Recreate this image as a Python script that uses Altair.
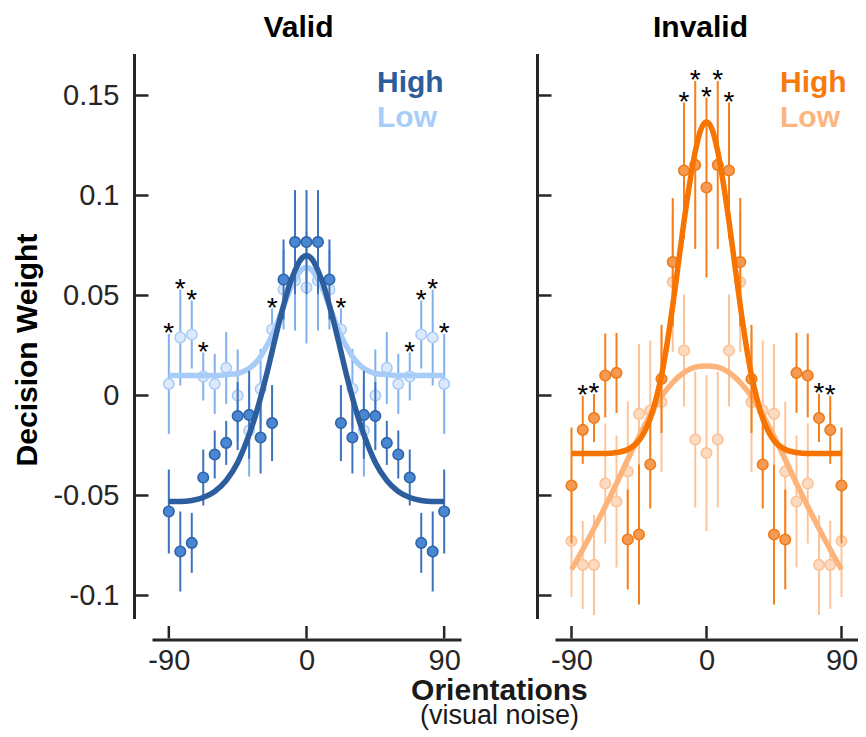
import altair as alt
import pandas as pd

# ---------------- data ----------------
ORIENT = [-90, -82.5, -75, -67.5, -60, -52.5, -45, -37.5, -30, -22.5, -15, -7.5, 0,
          7.5, 15, 22.5, 30, 37.5, 45, 52.5, 60, 67.5, 75, 82.5, 90]

VALID_HIGH = [-0.058, -0.078, -0.0737, -0.041, -0.0295, -0.0237, -0.0103, -0.0097, -0.021,
              -0.0138, 0.058, 0.0767, 0.0767, 0.0767, 0.058, -0.0138, -0.021, -0.0097,
              -0.0103, -0.0237, -0.0295, -0.041, -0.0737, -0.078, -0.058]
VALID_HIGH_ERR = [0.021, 0.020, 0.015, 0.014, 0.012, 0.011, 0.017, 0.022, 0.018, 0.019,
                  0.020, 0.026, 0.026, 0.026, 0.020, 0.019, 0.018, 0.022, 0.017, 0.011,
                  0.012, 0.014, 0.015, 0.020, 0.021]
VALID_LOW = [0.0058, 0.029, 0.0305, 0.0095, 0.0058, 0.0138, 0.0, -0.0175, 0.0033, 0.033,
             0.053, 0.0575, 0.054, 0.0575, 0.053, 0.033, 0.0033, -0.0175, 0.0, 0.0138,
             0.0058, 0.0095, 0.0305, 0.029, 0.0058]
VALID_LOW_ERR = [0.025, 0.024, 0.017, 0.012, 0.015, 0.018, 0.023, 0.023, 0.020, 0.0105,
                 0.020, 0.025, 0.028, 0.025, 0.020, 0.0105, 0.020, 0.023, 0.023, 0.018,
                 0.015, 0.012, 0.017, 0.024, 0.025]
VALID_STARS = [-90, -82.5, -75, -67.5, -22.5, 22.5, 67.5, 75, 82.5, 90]   # on "Low"

INVALID_HIGH = [-0.045, -0.0172, -0.0113, 0.010, 0.0113, -0.072, -0.0695, -0.0345, 0.0083,
                0.0667, 0.1125, 0.1153, 0.104, 0.1153, 0.1125, 0.0667, 0.0083, -0.0345,
                -0.0695, -0.072, 0.0113, 0.010, -0.0113, -0.0172, -0.045]
INVALID_HIGH_ERR = [0.029, 0.017, 0.012, 0.021, 0.020, 0.025, 0.035, 0.022, 0.027, 0.032,
                    0.034, 0.042, 0.045, 0.042, 0.034, 0.032, 0.027, 0.022, 0.035, 0.025,
                    0.020, 0.021, 0.012, 0.017, 0.029]
INVALID_LOW = [-0.0728, -0.0847, -0.0847, -0.044, -0.053, -0.038, -0.0092, -0.0075, -0.0033,
               0.0567, 0.0225, -0.022, -0.0288, -0.022, 0.0225, 0.0567, -0.0033, -0.0075,
               -0.0092, -0.038, -0.053, -0.044, -0.0847, -0.0847, -0.0728]
INVALID_LOW_ERR = [0.028, 0.022, 0.025, 0.030, 0.033, 0.035, 0.035, 0.035, 0.035, 0.035,
                   0.028, 0.034, 0.039, 0.034, 0.028, 0.035, 0.035, 0.035, 0.035, 0.035,
                   0.033, 0.030, 0.025, 0.022, 0.028]
INVALID_STARS = [-82.5, -75, -15, -7.5, 0, 7.5, 15, 75, 82.5]              # on "High"

FIT_X = [-90, -82.5, -75, -67.5, -60, -52.5, -45, -41.25, -37.5, -33.75, -30, -26.25,
         -22.5, -18.75, -15, -11.25, -7.5, -3.75, 0, 3.75, 7.5, 11.25, 15, 18.75, 22.5,
         26.25, 30, 33.75, 37.5, 41.25, 45, 52.5, 60, 67.5, 75, 82.5, 90]
VALID_HIGH_FIT = [-0.053, -0.053, -0.0525, -0.051, -0.048, -0.0425, -0.0335, -0.027,
                  -0.0195, -0.011, -0.001, 0.010, 0.022, 0.034, 0.045, 0.055, 0.0625,
                  0.068, 0.070, 0.068, 0.0625, 0.055, 0.045, 0.034, 0.022, 0.010, -0.001,
                  -0.011, -0.0195, -0.027, -0.0335, -0.0425, -0.048, -0.051, -0.0525,
                  -0.053, -0.053]
VALID_LOW_FIT = [0.010, 0.010, 0.010, 0.010, 0.010, 0.0105, 0.011, 0.012, 0.0135, 0.016,
                 0.0195, 0.0245, 0.030, 0.037, 0.0445, 0.052, 0.058, 0.0625, 0.064,
                 0.0625, 0.058, 0.052, 0.0445, 0.037, 0.030, 0.0245, 0.0195, 0.016,
                 0.0135, 0.012, 0.011, 0.0105, 0.010, 0.010, 0.010, 0.010, 0.010]
INVALID_HIGH_FIT = [-0.029, -0.029, -0.029, -0.029, -0.0285, -0.027, -0.0225, -0.018,
                    -0.0115, -0.002, 0.010, 0.026, 0.045, 0.066, 0.087, 0.106, 0.122,
                    0.133, 0.1367, 0.133, 0.122, 0.106, 0.087, 0.066, 0.045, 0.026, 0.010,
                    -0.002, -0.0115, -0.018, -0.0225, -0.027, -0.0285, -0.029, -0.029,
                    -0.029, -0.029]
INVALID_LOW_FIT = [-0.087, -0.077, -0.0665, -0.0555, -0.044, -0.032, -0.0205, -0.015,
                   -0.0095, -0.0048, -0.0005, 0.0032, 0.0065, 0.0093, 0.0115, 0.0131,
                   0.0142, 0.0146, 0.0148, 0.0146, 0.0142, 0.0131, 0.0115, 0.0093, 0.0065,
                   0.0032, -0.0005, -0.0048, -0.0095, -0.015, -0.0205, -0.032, -0.044,
                   -0.0555, -0.0665, -0.077, -0.087]

Y_TICKS = [-0.1, -0.05, 0, 0.05, 0.1, 0.15]
X_TICKS = [-90, 0, 90]
LEGEND_LABELS = ["High", "Low"]
PANEL_TITLES = ["Valid", "Invalid"]

# ---------------- styling ----------------
FONT = "Liberation Sans"
AX = "#262626"
H = 565
XDOM = [-101, 101]
YDOM = [-0.1115, 0.171]

VALID_COL = dict(high_line="#2c5d9d", high_fill="#4a87d3", high_stroke="#2f63a8",
                 high_bar="#3d72bd", low_line="#a7ccf7", low_fill="#dce9fc",
                 low_stroke="#a9ccf6", low_bar="#80b0ee",
                 leg_high="#2d5c9b", leg_low="#a9cdf9")
INVALID_COL = dict(high_line="#f77400", high_fill="#f59a52", high_stroke="#f07a16",
                   high_bar="#f77e18", low_line="#fdb47b", low_fill="#fddbc0",
                   low_stroke="#fdc194", low_bar="#fdc49a",
                   leg_high="#f77a0c", leg_low="#fdb57e")


def panel(title, high, high_err, low, low_err, high_fit, low_fit, stars, star_series,
          col, first, width, title_dx):
    xs = alt.Scale(domain=XDOM, nice=False, zero=False)
    ys = alt.Scale(domain=YDOM, nice=False, zero=False)
    xaxis = alt.Axis(values=X_TICKS, ticks=False, tickSize=0, domainWidth=3,
                     domainColor=AX, labelFontSize=29, labelColor=AX, labelPadding=7,
                     labelFlush=False, offset=21, title=None, grid=False,
                     labelExpr="'' + datum.value", labelFont=FONT)
    if first:
        yaxis = alt.Axis(values=Y_TICKS, ticks=False, tickSize=0, domainWidth=3,
                         domainColor=AX, labelFontSize=29, labelColor=AX,
                         labelPadding=15, offset=18, grid=False,
                         labelExpr="'' + datum.value", labelFont=FONT,
                         title="Decision Weight", titleFontSize=30,
                         titleFontWeight="bold", titleColor="black", titlePadding=10,
                         titleFont=FONT, titleY=296)
    else:
        yaxis = alt.Axis(values=Y_TICKS, ticks=False, tickSize=0, domainWidth=3,
                         domainColor=AX, labels=False, offset=18, grid=False, title=None)

    X = alt.X("o:Q", scale=xs, axis=xaxis)
    pts = pd.DataFrame({
        "o": ORIENT * 2,
        "v": high + low,
        "err": high_err + low_err,
        "series": ["High"] * len(ORIENT) + ["Low"] * len(ORIENT),
    })
    pts["lo"] = pts["v"] - pts["err"]
    pts["hi"] = pts["v"] + pts["err"]
    fits = pd.DataFrame({
        "o": FIT_X * 2,
        "v": high_fit + low_fit,
        "series": ["High"] * len(FIT_X) + ["Low"] * len(FIT_X),
    })
    star_df = pts[(pts["series"] == star_series) & (pts["o"].isin(stars))]

    ytick_df = pd.DataFrame({"v": Y_TICKS})
    xtick_df = pd.DataFrame({"o": X_TICKS})

    yticks = alt.Chart(ytick_df).mark_rule(color=AX, strokeWidth=2.5).encode(
        y=alt.Y("v:Q", scale=ys, axis=yaxis), x=alt.value(-16.5), x2=alt.value(-3.5))
    xticks = alt.Chart(xtick_df).mark_rule(color=AX, strokeWidth=2.5).encode(
        x=X, y=alt.value(H + 20), y2=alt.value(H + 7.5))

    layers = [yticks, xticks]
    for s in ["Low", "High"]:
        key = s.lower()
        sub = pts[pts["series"] == s]
        fsub = fits[fits["series"] == s]
        layers.append(alt.Chart(sub).mark_rule(color=col[key + "_bar"], strokeWidth=2).encode(
            x=X, y=alt.Y("lo:Q", scale=ys, axis=yaxis), y2="hi:Q"))
        layers.append(alt.Chart(sub).mark_circle(
            size=110, color=col[key + "_fill"], opacity=1,
            stroke=col[key + "_stroke"], strokeWidth=1.6).encode(
            x=X, y=alt.Y("v:Q", scale=ys, axis=yaxis)))
        layers.append(alt.Chart(fsub).mark_line(
            color=col[key + "_line"], strokeWidth=5.5, interpolate="monotone").encode(
            x=X, y=alt.Y("v:Q", scale=ys, axis=yaxis)))

    layers.append(alt.Chart(star_df).mark_text(
        text="*", fontSize=28, font=FONT, color="black", baseline="alphabetic",
        align="center", dy=8).encode(x=X, y=alt.Y("hi:Q", scale=ys, axis=yaxis)))

    for i, lab in enumerate(LEGEND_LABELS):
        layers.append(alt.Chart(pd.DataFrame({"label": [lab]})).mark_text(
            fontSize=30, fontWeight="bold", font=FONT, align="left",
            baseline="alphabetic",
            color=col["leg_high"] if lab == "High" else col["leg_low"]).encode(
            x=alt.value(225), y=alt.value(38.5 + 35 * i), text="label:N"))

    return alt.layer(*layers).properties(
        width=width, height=H,
        title=alt.TitleParams(title, fontSize=30, fontWeight="bold", font=FONT,
                              color="black", anchor="middle", dx=title_dx, offset=10.5))


left = panel(PANEL_TITLES[0], VALID_HIGH, VALID_HIGH_ERR, VALID_LOW, VALID_LOW_ERR,
             VALID_HIGH_FIT, VALID_LOW_FIT, VALID_STARS, "Low", VALID_COL, True, 309, -8)
right = panel(PANEL_TITLES[1], INVALID_HIGH, INVALID_HIGH_ERR, INVALID_LOW,
              INVALID_LOW_ERR, INVALID_HIGH_FIT, INVALID_LOW_FIT, INVALID_STARS, "High",
              INVALID_COL, False, 303, -6)

chart = alt.hconcat(left, right, spacing=94, bounds="flush").properties(
    title=alt.TitleParams("Orientations", subtitle="(visual noise)", orient="bottom",
                          anchor="middle", fontSize=30, fontWeight="bold", font=FONT,
                          color="#1a1a1a", subtitleFontSize=27, subtitleFont=FONT,
                          subtitleFontWeight="normal", subtitleColor="#1a1a1a",
                          subtitlePadding=-3, offset=0, dx=64),
    padding={"left": 4, "top": 4.5, "right": 0, "bottom": 1},
).configure(font=FONT).configure_view(strokeWidth=0, stroke="transparent")

chart.save("out.html", embed_options={"renderer": "svg", "actions": False})
